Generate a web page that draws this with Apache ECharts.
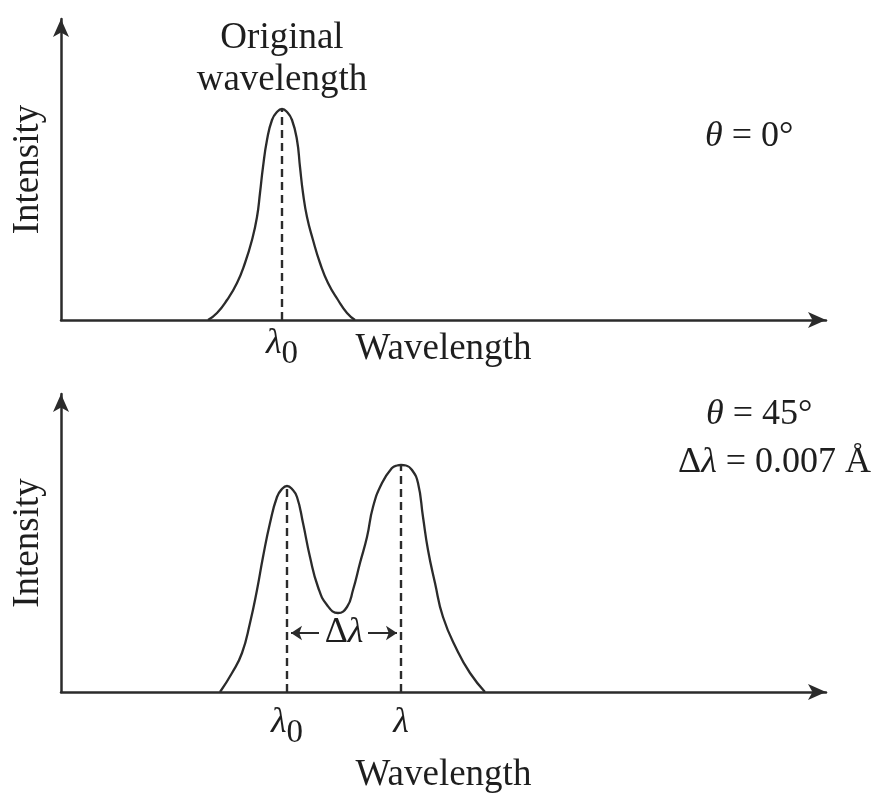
<!DOCTYPE html>
<html>
<head>
<meta charset="utf-8">
<style>
  html, body { margin: 0; padding: 0; background: #fff; }
  #chart { width: 891px; height: 798px; }
</style>
<script src="https://cdn.jsdelivr.net/npm/echarts@6/dist/echarts.min.js"></script>
</head>
<body>
<div id="chart"></div>
<script>
// ---- data (arbitrary wavelength / intensity units) ----
const topWavelength = [147, 156, 166, 176, 184, 191, 196, 199, 202, 206, 211, 216, 221, 226, 231, 236, 239, 242, 246, 252, 259, 267, 277, 286, 294];
const topIntensity  = [0, 7, 20, 37, 57, 80, 103, 127, 153, 180, 200, 208, 211, 208, 200, 180, 153, 127, 103, 80, 57, 37, 20, 7, 0];

const bottomWavelength = [159, 171, 181, 189, 196, 202, 209, 216, 221, 226, 231, 236, 242, 249, 257, 266, 277, 286, 292, 299, 306, 312, 321, 331, 336, 340, 345, 351, 357, 362, 367, 374, 382, 396, 409, 424];
const bottomIntensity  = [0, 19, 39, 69, 102, 135, 169, 195, 203, 206, 203, 195, 169, 135, 105, 87, 79, 85, 102, 129, 155, 185, 209, 224, 226.5, 227, 226.5, 222, 209, 175, 142, 109, 75, 42, 19, 0];

const lambda0Top = 221, lambda0TopPeak = 211;
const lambda0Bottom = 226, lambda0BottomPeak = 206;
const lambdaBottom = 340, lambdaBottomPeak = 227;
const deltaArrowLevel = 59;
const deltaArrowLeftStart = 258, deltaArrowRightStart = 307;

const xAxisMax = 765;
const topYMax = 301, bottomYMax = 298;

const axisName = 'Wavelength';
const yName = 'Intensity';
const topAnnotation = 'Original\nwavelength';

// ---- styles ----
const FONT = "'Liberation Serif', 'DejaVu Serif', serif";
const INK = '#2b2b2b';
const TEXT = '#1e1e1e';

function zip(xs, ys) { return xs.map((x, i) => [x, ys[i]]); }

function makeX(idx, gap) {
  return {
    gridIndex: idx, type: 'value', min: 0, max: xAxisMax,
    axisLine: { show: true, symbol: ['none', 'arrow'], symbolSize: [12, 18], lineStyle: { color: INK, width: 2.5 } },
    axisTick: { show: false }, axisLabel: { show: false }, splitLine: { show: false },
    name: axisName, nameLocation: 'middle', nameGap: gap,
    nameTextStyle: { fontFamily: FONT, fontSize: 37, color: TEXT }
  };
}
function makeY(idx, max) {
  return {
    gridIndex: idx, type: 'value', min: 0, max: max,
    axisLine: { show: true, symbol: ['none', 'arrow'], symbolSize: [12, 18], lineStyle: { color: INK, width: 2.5 } },
    axisTick: { show: false }, axisLabel: { show: false }, splitLine: { show: false },
    name: yName, nameLocation: 'middle', nameGap: 14,
    nameTextStyle: { fontFamily: FONT, fontSize: 37, color: TEXT }
  };
}

const lamRich = {
  l: { fontFamily: FONT, fontSize: 36, fontStyle: 'italic', color: TEXT, lineHeight: 40, verticalAlign: 'top' },
  s: { fontFamily: FONT, fontSize: 33, color: TEXT, lineHeight: 40, padding: [12, 0, 0, 0], verticalAlign: 'top' }
};

function dashed(x, peak, xi, yi) {
  return {
    type: 'line', xAxisIndex: xi, yAxisIndex: yi, data: [[x, 0], [x, peak]],
    symbol: 'none', silent: true,
    lineStyle: { color: INK, width: 2.4, type: [8, 5] }
  };
}

function labelSeries(xi, yi, point, distance, formatter, rich, position) {
  return {
    type: 'scatter', xAxisIndex: xi, yAxisIndex: yi, symbolSize: 0, silent: true,
    itemStyle: { opacity: 1, color: 'rgba(0,0,0,0)' },
    data: [point],
    label: { show: true, position: position, distance: distance, formatter: formatter, rich: rich, opacity: 1 }
  };
}

const option = {
  animation: false,
  backgroundColor: '#fff',
  grid: [
    { left: 61, width: 765, top: 19, height: 301 },
    { left: 61, width: 765, top: 394, height: 298 }
  ],
  xAxis: [makeX(0, 11), makeX(1, 65)],
  yAxis: [makeY(0, topYMax), makeY(1, bottomYMax)],
  series: [
    {
      type: 'line', xAxisIndex: 0, yAxisIndex: 0, data: zip(topWavelength, topIntensity),
      smooth: 0.5, symbol: 'none', lineStyle: { color: INK, width: 2.3 }
    },
    {
      type: 'line', xAxisIndex: 1, yAxisIndex: 1, data: zip(bottomWavelength, bottomIntensity),
      smooth: 0.5, symbol: 'none', lineStyle: { color: INK, width: 2.3 }
    },
    dashed(lambda0Top, lambda0TopPeak, 0, 0),
    dashed(lambda0Bottom, lambda0BottomPeak, 1, 1),
    dashed(lambdaBottom, lambdaBottomPeak, 1, 1),
    {
      type: 'lines', coordinateSystem: 'cartesian2d', xAxisIndex: 1, yAxisIndex: 1,
      symbol: ['none', 'arrow'], symbolSize: [9, 11],
      lineStyle: { color: INK, width: 2, opacity: 1 },
      data: [
        { coords: [[deltaArrowLeftStart, deltaArrowLevel], [lambda0Bottom + 4, deltaArrowLevel]] },
        { coords: [[deltaArrowRightStart, deltaArrowLevel], [lambdaBottom - 4, deltaArrowLevel]] }
      ]
    },
    labelSeries(1, 1, [(lambda0Bottom + lambdaBottom) / 2, deltaArrowLevel], 0, '{d|Δ}{l|λ}', {
      d: { fontFamily: FONT, fontSize: 36, color: TEXT },
      l: { fontFamily: FONT, fontSize: 36, fontStyle: 'italic', color: TEXT }
    }, 'inside'),
    labelSeries(0, 0, [lambda0Top, 0], 6, '{l|λ}{s|0}', lamRich, 'bottom'),
    labelSeries(1, 1, [lambda0Bottom, 0], 13, '{l|λ}{s|0}', lamRich, 'bottom'),
    labelSeries(1, 1, [lambdaBottom, 0], 13, '{l|λ}', lamRich, 'bottom')
  ],
  graphic: [
    {
      type: 'text', x: 282, y: 59,
      style: {
        text: topAnnotation, font: "37px 'Liberation Serif', serif", fill: TEXT,
        textAlign: 'center', textVerticalAlign: 'middle', align: 'center', verticalAlign: 'middle', lineHeight: 42
      }
    },
    {
      type: 'text', x: 705, y: 137,
      style: {
        text: '{i|θ} = 0°', fill: TEXT, fontFamily: FONT, fontSize: 36,
        textVerticalAlign: 'middle', verticalAlign: 'middle',
        rich: { i: { fontStyle: 'italic', fontFamily: FONT, fontSize: 36, fill: TEXT } }
      }
    },
    {
      type: 'text', x: 706, y: 415,
      style: {
        text: '{i|θ} = 45°', fill: TEXT, fontFamily: FONT, fontSize: 36,
        textVerticalAlign: 'middle', verticalAlign: 'middle',
        rich: { i: { fontStyle: 'italic', fontFamily: FONT, fontSize: 36, fill: TEXT } }
      }
    },
    {
      type: 'text', x: 678, y: 463,
      style: {
        text: 'Δ{i|λ} = 0.007 Å', fill: TEXT, fontFamily: FONT, fontSize: 36,
        textVerticalAlign: 'middle', verticalAlign: 'middle',
        rich: { i: { fontStyle: 'italic', fontFamily: FONT, fontSize: 36, fill: TEXT } }
      }
    }
  ]
};

const chart = echarts.init(document.getElementById('chart'), null, { renderer: 'canvas' });
chart.setOption(option);
</script>
</body>
</html>
